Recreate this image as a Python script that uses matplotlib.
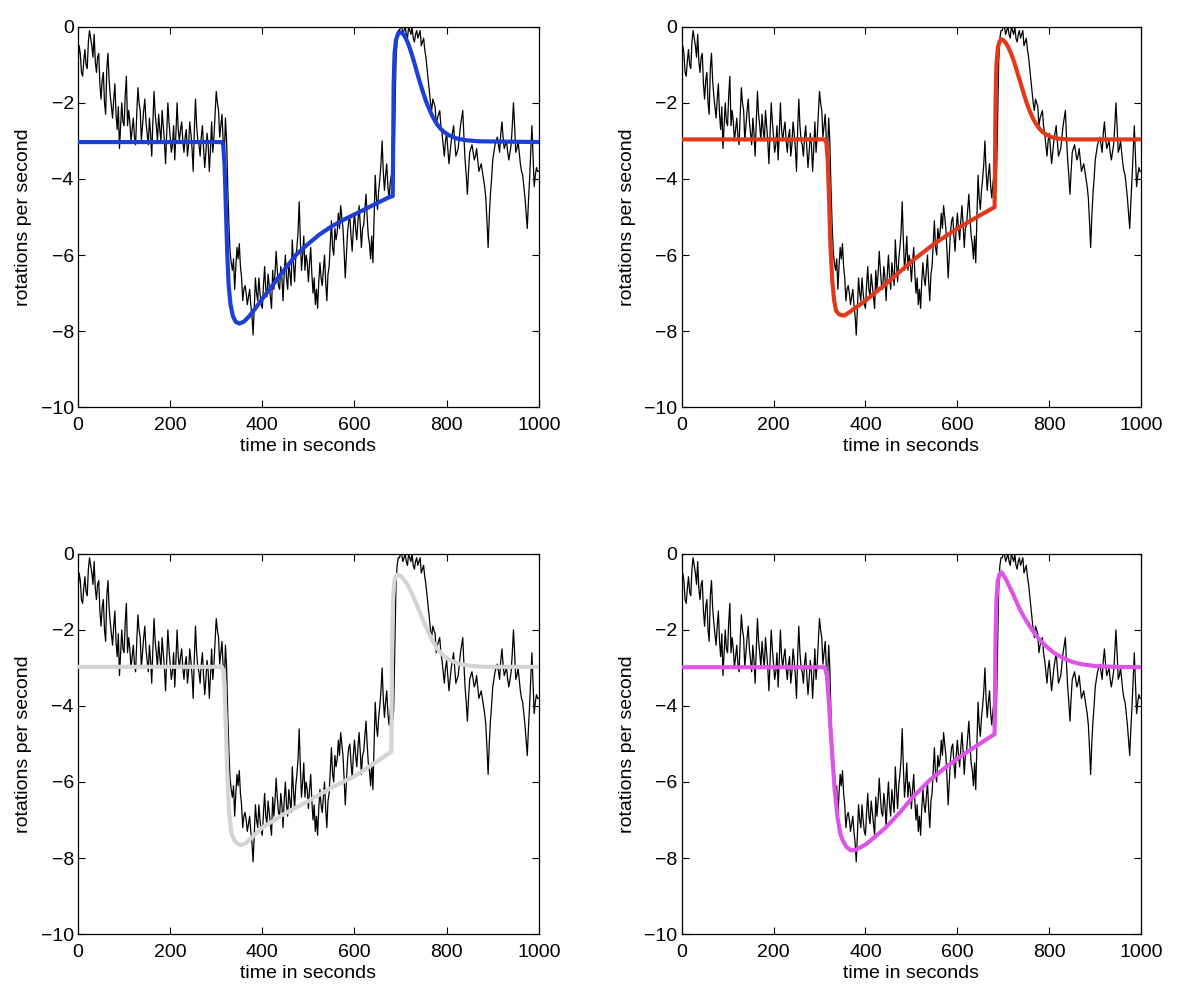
import numpy as np
import matplotlib
matplotlib.use('Agg')
import matplotlib.pyplot as plt

plt.rcParams['font.family'] = ['Liberation Sans', 'DejaVu Sans']

t_meas = np.arange(0, 1001, 5)
y_meas = [
    -1.0, -0.7, -1.3, -0.6, -1.1, -0.1, -0.5, -0.2, -1.2, -0.7,
    -1.9, -1.2, -2.3, -0.7, -1.8, -2.4, -1.5, -2.7, -3.2, -2.0,
    -2.6, -1.3, -2.2, -3.0, -2.4, -3.1, -1.6, -2.2, -2.6, -1.9,
    -2.8, -2.4, -3.4, -1.7, -2.6, -2.3, -3.0, -2.6, -3.6, -2.0,
    -2.9, -3.1, -3.5, -2.0, -3.0, -2.5, -3.3, -2.7, -3.1, -2.8,
    -3.8, -1.9, -3.0, -3.4, -2.6, -3.7, -2.8, -3.8, -2.5, -2.9,
    -1.7, -2.2, -2.6, -3.0, -2.4, -4.2, -5.9, -6.4, -6.9, -5.8,
    -5.7, -6.6, -6.9, -7.0, -7.1, -7.3, -8.1, -6.6, -7.2, -7.0,
    -7.4, -6.3, -7.1, -6.8, -7.4, -6.9, -5.9, -6.8, -6.3, -7.2,
    -6.0, -6.9, -6.5, -5.6, -6.7, -5.8, -4.6, -6.4, -5.5, -6.0,
    -6.7, -5.8, -7.0, -7.3, -7.4, -6.2, -6.8, -6.0, -7.2, -6.3,
    -5.1, -6.0, -5.6, -4.9, -4.7, -5.3, -6.6, -5.4, -5.0, -5.9,
    -4.9, -5.6, -4.7, -5.8, -5.2, -4.4, -5.5, -6.1, -6.2, -3.9,
    -4.8, -4.0, -3.0, -4.3, -3.6, -4.5, -3.9, -4.1, -0.9, -0.1,
    0.0, -0.2, 0.0, -0.3, -0.1, 0.0, -0.4, -0.1, -0.2, -0.5,
    -0.3, -0.8, -1.4, -2.0, -1.9, -2.1, -2.4, -2.2, -2.8, -3.4,
    -2.8, -3.6, -3.0, -2.6, -3.4, -3.2, -2.6, -2.2, -3.5, -4.4,
    -3.3, -3.1, -3.5, -3.2, -3.8, -3.6, -4.0, -4.5, -5.8, -4.4,
    -3.5, -3.1, -2.9, -3.3, -2.5, -3.2, -3.0, -3.5, -3.1, -2.0,
    -3.3, -3.0, -3.6, -3.9, -4.5, -5.3, -4.0, -2.6, -4.2, -3.7,
    -3.8,
]
# samples in between, at t = 2.5, 7.5, ..., 997.5 s
t_mid = np.arange(2.5, 1000, 5)
y_mid = [
    -0.5, -1.2, -0.9, -1.0, -0.4, -0.3, -0.8, -0.9, -0.8, -1.5,
    -1.4, -2.0, -1.1, -1.4, -2.1, -1.9, -2.3, -2.1, -2.6, -2.5,
    -1.8, -2.6, -2.5, -2.7, -2.9, -2.3, -2.0, -3.0, -2.2, -2.5,
    -3.1, -2.8, -2.5, -2.3, -3.0, -2.7, -2.2, -3.0, -2.8, -2.5,
    -3.3, -2.6, -2.8, -2.7, -2.7, -3.0, -2.9, -3.4, -2.5, -3.2,
    -2.7, -2.6, -3.1, -2.9, -3.2, -3.3, -3.1, -3.2, -3.3, -2.3,
    -2.0, -2.9, -2.3, -3.4, -3.0, -5.2, -6.2, -6.1, -6.3, -6.1,
    -6.3, -7.2, -6.8, -7.3, -6.9, -7.6, -7.4, -7.0, -6.6, -7.3,
    -6.8, -6.9, -6.5, -7.1, -6.4, -6.5, -6.4, -6.9, -6.6, -6.5,
    -6.6, -6.2, -6.8, -6.2, -6.1, -5.4, -5.6, -6.0, -6.4, -6.2,
    -6.2, -6.5, -6.6, -6.9, -6.7, -6.6, -6.4, -6.7, -6.5, -5.7,
    -5.8, -5.3, -5.4, -5.3, -5.0, -5.9, -6.0, -5.1, -5.5, -5.3,
    -5.3, -5.1, -5.2, -5.3, -4.8, -5.0, -5.7, -5.5, -5.0, -4.5,
    -4.3, -3.6, -3.8, -3.9, -4.2, -4.1, -4.4, -2.5, -0.3, -0.1,
    0.0, -0.1, -0.2, 0.0, -0.2, -0.3, -0.2, -0.3, -0.1, -0.4,
    -0.6, -1.1, -1.7, -2.2, -2.0, -2.6, -2.3, -2.6, -3.1, -3.0,
    -3.2, -3.3, -2.8, -3.0, -3.3, -2.9, -2.4, -2.9, -3.9, -3.8,
    -3.2, -3.3, -3.4, -3.5, -3.7, -3.8, -4.2, -5.1, -5.0, -4.0,
    -3.3, -3.0, -3.1, -2.8, -2.9, -3.1, -3.3, -3.3, -2.6, -2.6,
    -3.2, -3.3, -3.8, -4.2, -4.9, -4.6, -3.3, -3.4, -3.9, -3.8,
]

# model curves
t_blue = [0, 312, 315, 318, 321, 324, 327, 331, 336, 342, 350, 360, 372, 385,
          400, 425, 450, 475, 500, 525, 550, 575, 600, 625, 650, 675, 683,
          684, 685, 687, 690, 695, 700, 705, 710, 715, 720, 725, 730, 735,
          740, 745, 750, 755, 760, 765, 770, 778, 786, 795, 805, 820, 840,
          870, 1000]
y_blue = [-3.03, -3.03, -3.1, -3.6, -4.8, -6.0, -6.8, -7.3, -7.6, -7.75, -7.8,
          -7.75, -7.6, -7.4, -7.15, -6.75, -6.35, -5.97, -5.7, -5.45, -5.25,
          -5.08, -4.93, -4.78, -4.63, -4.48, -4.45, -3.0, -1.5, -0.7, -0.35,
          -0.17, -0.15, -0.18, -0.27, -0.4, -0.56, -0.75, -0.95, -1.17,
          -1.38, -1.58, -1.77, -1.95, -2.1, -2.24, -2.37, -2.54, -2.67, -2.77,
          -2.85, -2.93, -2.98, -3.01, -3.03]

t_red = [0, 312, 315, 318, 321, 324, 328, 332, 336, 342, 348, 354, 365, 400,
         450, 503, 550, 600, 650, 681, 682, 683, 685, 688, 692, 696, 700,
         705, 710, 715, 720, 725, 730, 735, 740, 745, 750, 755, 760, 765,
         770, 778, 786, 794, 805, 820, 840, 1000]
y_red = [-2.96, -2.96, -3.05, -3.5, -4.6, -5.8, -6.7, -7.2, -7.46, -7.55,
         -7.58, -7.59, -7.5, -7.2, -6.7, -6.14, -5.7, -5.3, -4.95, -4.74,
         -3.5, -2.0, -1.0, -0.55, -0.38, -0.33, -0.35, -0.42, -0.52, -0.65,
         -0.8, -0.98, -1.18, -1.38, -1.58, -1.78, -1.97, -2.14, -2.29, -2.42,
         -2.53, -2.67, -2.77, -2.84, -2.9, -2.94, -2.96, -2.96]

t_gray = [0, 312, 315, 318, 321, 324, 328, 333, 340, 348, 355, 365, 400, 450,
          500, 550, 600, 650, 680, 681, 682, 684, 687, 690, 693, 700, 708,
          717, 727, 738, 749, 760, 770, 780, 790, 805, 825, 850, 880, 1000]
y_gray = [-2.97, -2.97, -3.05, -3.5, -4.6, -5.8, -6.8, -7.35, -7.55, -7.64,
          -7.66, -7.6, -7.2, -6.82, -6.5, -6.15, -5.85, -5.45, -5.2, -3.6,
          -2.0, -1.1, -0.7, -0.58, -0.54, -0.58, -0.68, -0.85, -1.1, -1.42,
          -1.75, -2.05, -2.3, -2.5, -2.64, -2.78, -2.88, -2.94, -2.97, -2.97]

t_mag = [0, 312, 316, 320, 324, 328, 333, 339, 345, 350, 358, 368, 380, 401,
         420, 445, 475, 503, 540, 575, 610, 648, 681, 682, 683, 685, 688,
         692, 696, 700, 705, 711, 721, 730, 740, 750, 760, 770, 780, 794,
         810, 830, 850, 870, 900, 940, 1000]
y_mag = [-2.98, -2.98, -3.2, -3.8, -4.6, -5.33, -6.2, -6.91, -7.35, -7.52,
         -7.7, -7.8, -7.78, -7.64, -7.45, -7.19, -6.8, -6.4, -5.95, -5.61,
         -5.3, -5.0, -4.74, -3.5, -2.2, -1.2, -0.7, -0.52, -0.48, -0.55,
         -0.65, -0.8, -1.05, -1.3, -1.55, -1.76, -1.95, -2.12, -2.27, -2.44,
         -2.6, -2.74, -2.84, -2.9, -2.95, -2.97, -2.98]

# merge the two sample sets into one time series
t_all = np.concatenate([t_meas, t_mid])
y_all = np.concatenate([y_meas, y_mid])
order = np.argsort(t_all)
t_all = t_all[order]
y_all = y_all[order]

models = [(t_blue, y_blue, '#1c3fd8'),
          (t_red, y_red, '#e2391d'),
          (t_gray, y_gray, '#d4d4d4'),
          (t_mag, y_mag, '#dc55e6')]

positions = [[0.065, 0.589, 0.384, 0.384],
             [0.568, 0.589, 0.383, 0.384],
             [0.065, 0.0575, 0.384, 0.3835],
             [0.568, 0.0575, 0.383, 0.3835]]

fig = plt.figure(figsize=(12, 9.91), dpi=100)
for pos, (tm, ym, col) in zip(positions, models):
    ax = fig.add_axes(pos)
    ax.plot(t_all, y_all, color='black', lw=0.9, zorder=2)
    ax.plot(tm, ym, color=col, lw=3, zorder=3, solid_joinstyle='round')
    ax.set_xlim(0, 1000)
    ax.set_ylim(-10, 0)
    ax.set_xticks([0, 200, 400, 600, 800, 1000])
    ax.set_yticks([-10, -8, -6, -4, -2, 0])
    ax.tick_params(direction='in', top=True, right=True, labelsize=14,
                   length=5, width=0.8, pad=3)
    ax.tick_params(axis='x', pad=7)
    for s in ax.spines.values():
        s.set_linewidth(0.9)
    ax.set_xlabel('time in seconds', fontsize=14, labelpad=3)
    ax.set_ylabel('rotations per second', fontsize=14, labelpad=6)

fig.savefig('out.png', dpi=100)
